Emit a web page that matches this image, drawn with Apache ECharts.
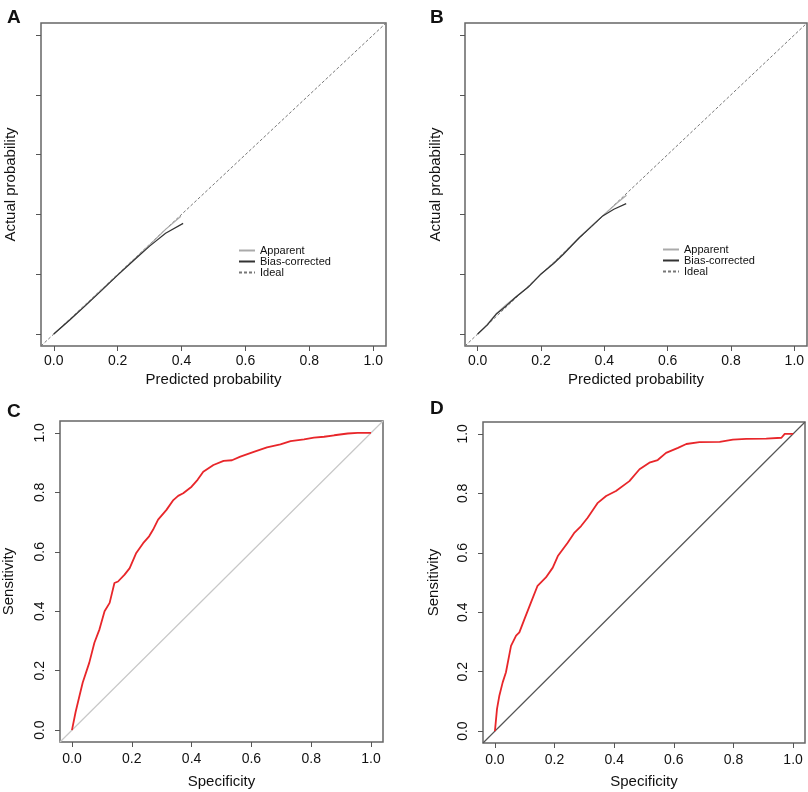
<!DOCTYPE html>
<html>
<head>
<meta charset="utf-8">
<script src="https://cdn.jsdelivr.net/npm/echarts@6/dist/echarts.min.js"></script>
<style>
  html, body { margin: 0; padding: 0; background: #fff; }
  #chart { width: 808px; height: 792px; }
</style>
</head>
<body>
<div id="chart"></div>
<script>
// ticks shared by all panels
const tickValues = [0, 0.2, 0.4, 0.6, 0.8, 1.0];
const legendNames = ["Apparent", "Bias-corrected", "Ideal"];

// A: calibration curves [predicted, actual]
const calA_apparent = [[0.0, 0.0], [0.05, 0.048], [0.1, 0.097], [0.15, 0.148], [0.2, 0.198], [0.25, 0.248], [0.3, 0.298], [0.35, 0.35], [0.398, 0.394]];
const calA_bias = [[0.0, 0.0], [0.05, 0.047], [0.1, 0.096], [0.15, 0.146], [0.2, 0.197], [0.25, 0.246], [0.3, 0.294], [0.35, 0.337], [0.405, 0.37]];
const idealLine = [[-0.04, -0.04], [1.04, 1.04]];

// B: calibration curves
const calB_apparent = [[0.0, 0.0], [0.03, 0.032], [0.06, 0.07], [0.09, 0.098], [0.12, 0.124], [0.16, 0.158], [0.2, 0.2], [0.24, 0.238], [0.27, 0.268], [0.32, 0.322], [0.36, 0.362], [0.4, 0.4], [0.44, 0.438], [0.47, 0.464]];
const calB_bias = [[0.0, 0.0], [0.03, 0.03], [0.06, 0.068], [0.09, 0.094], [0.12, 0.123], [0.16, 0.157], [0.2, 0.201], [0.24, 0.236], [0.27, 0.266], [0.32, 0.321], [0.36, 0.36], [0.395, 0.395], [0.43, 0.417], [0.469, 0.436]];

// C: ROC curve [specificity axis, sensitivity]
const rocC = [[0, 0], [0.012, 0.06], [0.025, 0.115], [0.036, 0.16], [0.058, 0.227], [0.075, 0.294], [0.092, 0.339], [0.109, 0.4], [0.126, 0.428], [0.142, 0.495], [0.154, 0.5], [0.176, 0.523], [0.193, 0.545], [0.215, 0.596], [0.238, 0.629], [0.258, 0.652], [0.271, 0.674], [0.288, 0.708], [0.316, 0.741], [0.339, 0.774], [0.355, 0.788], [0.372, 0.797], [0.4, 0.819], [0.42, 0.842], [0.439, 0.869], [0.473, 0.892], [0.507, 0.906], [0.535, 0.908], [0.563, 0.92], [0.608, 0.936], [0.652, 0.951], [0.697, 0.961], [0.731, 0.972], [0.776, 0.978], [0.809, 0.984], [0.843, 0.987], [0.877, 0.992], [0.922, 0.998], [0.955, 1.0], [1.0, 1.0]];
const rocD = [[0, 0], [0.007, 0.075], [0.015, 0.12], [0.026, 0.164], [0.037, 0.198], [0.054, 0.287], [0.071, 0.321], [0.082, 0.332], [0.099, 0.377], [0.121, 0.433], [0.143, 0.489], [0.171, 0.517], [0.194, 0.55], [0.211, 0.589], [0.244, 0.634], [0.267, 0.668], [0.289, 0.69], [0.311, 0.718], [0.345, 0.768], [0.373, 0.791], [0.406, 0.808], [0.451, 0.841], [0.485, 0.881], [0.518, 0.903], [0.546, 0.912], [0.574, 0.936], [0.614, 0.953], [0.642, 0.966], [0.686, 0.972], [0.754, 0.973], [0.798, 0.981], [0.843, 0.983], [0.91, 0.984], [0.961, 0.987], [0.972, 1.0], [1.0, 1.0]];
const diagLine = [[-0.04, -0.04], [1.04, 1.04]];

const font = "'Liberation Sans', Arial, Helvetica, sans-serif";

function xAx(grid, name, gap, margin) {
  return {
    type: "value", gridIndex: grid, min: -0.04, max: 1.04,
    name: name, nameLocation: "middle", nameGap: gap,
    nameTextStyle: { fontFamily: font, fontSize: 15, color: "#111" },
    axisLine: { show: false, onZero: false },
    splitLine: { show: false },
    axisTick: { show: true, length: 5, customValues: tickValues, lineStyle: { color: "#555" } },
    axisLabel: { customValues: tickValues, margin: margin, fontFamily: font, fontSize: 14, color: "#111",
      formatter: (v) => v.toFixed(1) }
  };
}
function yAx(grid, name, gap, labels) {
  return {
    type: "value", gridIndex: grid, min: -0.04, max: 1.04,
    name: name, nameLocation: "middle", nameGap: gap,
    nameTextStyle: { fontFamily: font, fontSize: 15, color: "#111" },
    axisLine: { show: false, onZero: false },
    splitLine: { show: false },
    axisTick: { show: true, length: 5, customValues: tickValues, lineStyle: { color: "#555" } },
    axisLabel: { show: labels, customValues: tickValues, rotate: 90, margin: 13, fontFamily: font, fontSize: 14, color: "#111",
      formatter: (v) => v.toFixed(1) }
  };
}
function line(name, data, idx, color, width, type) {
  return {
    name: name, type: "line", xAxisIndex: idx, yAxisIndex: idx, data: data,
    showSymbol: false, symbol: "none", animation: false,
    lineStyle: { color: color, width: width, type: type || "solid" },
    itemStyle: { color: color }
  };
}
function legendAt(left, top) {
  return {
    data: legendNames, orient: "vertical", left: left, top: top,
    itemWidth: 16, itemHeight: 8, itemGap: 0, selectedMode: false,
    itemStyle: { opacity: 0 },
    textStyle: { fontFamily: font, fontSize: 11, color: "#111", lineHeight: 10 }
  };
}

const gridStyle = { show: true, borderColor: "#666", borderWidth: 1.5, backgroundColor: "#fff", outerBoundsMode: "none", containLabel: false };

const option = {
  animation: false,
  title: [
    { text: "A", left: 2, top: 3 },
    { text: "B", left: 425, top: 3 },
    { text: "C", left: 2, top: 397 },
    { text: "D", left: 425, top: 394 }
  ].map((t) => Object.assign(t, { textStyle: { fontFamily: font, fontSize: 19, fontWeight: "bold", color: "#111" } })),
  legend: [legendAt(233, 240), legendAt(657, 239)],
  grid: [
    Object.assign({ left: 41, top: 23, width: 345, height: 323 }, gridStyle),
    Object.assign({ left: 465, top: 23, width: 342, height: 323 }, gridStyle),
    Object.assign({ left: 60, top: 421, width: 323, height: 321 }, gridStyle),
    Object.assign({ left: 483, top: 422, width: 322, height: 321 }, gridStyle)
  ],
  xAxis: [
    xAx(0, "Predicted probability", 26, 8),
    xAx(1, "Predicted probability", 26, 8),
    xAx(2, "Specificity", 32, 10),
    xAx(3, "Specificity", 31, 10)
  ],
  yAxis: [
    yAx(0, "Actual probability", 23, false),
    yAx(1, "Actual probability", 22, false),
    yAx(2, "Sensitivity", 44, true),
    yAx(3, "Sensitivity", 42, true)
  ],
  series: [
    line("Ideal", idealLine, 0, "#777", 1, [3, 2]),
    line("Apparent", calA_apparent, 0, "#aaa", 1.2),
    line("Bias-corrected", calA_bias, 0, "#333", 1.2),
    line("Ideal", idealLine, 1, "#777", 1, [3, 2]),
    line("Apparent", calB_apparent, 1, "#aaa", 1.2),
    line("Bias-corrected", calB_bias, 1, "#333", 1.2),
    line("diagC", diagLine, 2, "#c8c8c8", 1.2),
    line("rocC", rocC, 2, "#e8262a", 1.8),
    line("diagD", diagLine, 3, "#555", 1.2),
    line("rocD", rocD, 3, "#e8262a", 1.8)
  ]
};

echarts.init(document.getElementById("chart")).setOption(option);
</script>
</body>
</html>
